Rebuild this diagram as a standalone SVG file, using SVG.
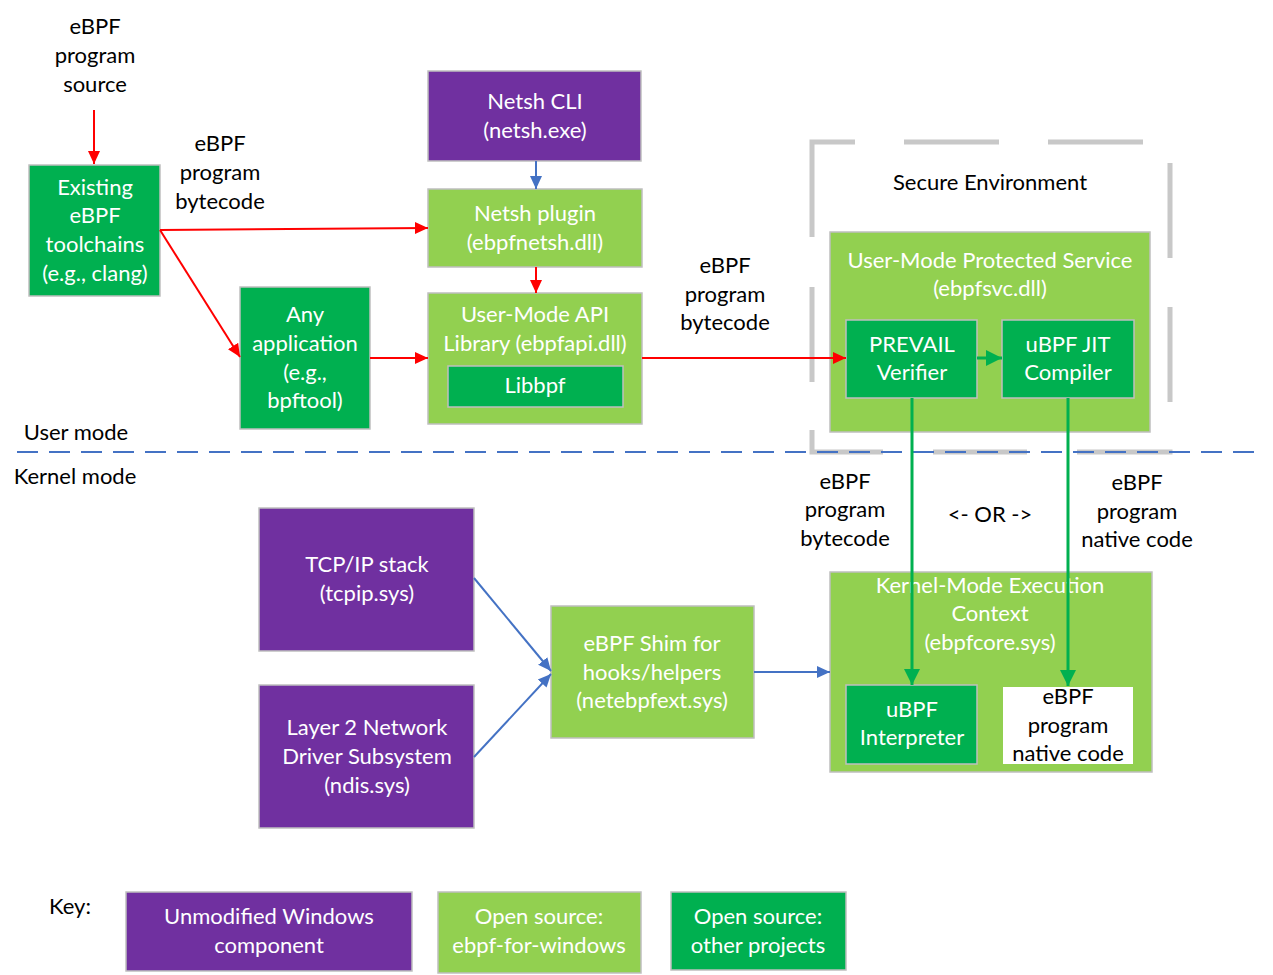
<svg xmlns="http://www.w3.org/2000/svg" width="1273" height="975" viewBox="0 0 1273 975">
<style>
text{font-family:Lato,"Open Sans","Liberation Sans",sans-serif;font-size:22px;text-anchor:middle;dominant-baseline:central;transform:translate(0px,-1.5px)}
.w{fill:#fff}
.k{fill:#000}
.purple{fill:#7030A0;stroke:#BFBFBF;stroke-width:1.5}
.lg{fill:#92D050;stroke:#BFBFBF;stroke-width:1.5}
.dg{fill:#00B050;stroke:#BFBFBF;stroke-width:1.5}
.wb{fill:#fff;stroke:none}
.red{stroke:#FF0000;stroke-width:2;fill:none}
.blue{stroke:#4472C4;stroke-width:2;fill:none}
.green{stroke:#00B050;stroke-width:3;fill:none}
.gray{stroke:#C8C8C8;stroke-width:5;fill:none;stroke-linejoin:miter}
</style>
<defs>
<marker id="ar" markerUnits="userSpaceOnUse" markerWidth="14" markerHeight="14" refX="13" refY="7" orient="auto"><path d="M0,1 L13,7 L0,13 Z" fill="#FF0000"/></marker>
<marker id="ab" markerUnits="userSpaceOnUse" markerWidth="14" markerHeight="14" refX="13" refY="7" orient="auto"><path d="M0,1 L13,7 L0,13 Z" fill="#4472C4"/></marker>
<marker id="ag" markerUnits="userSpaceOnUse" markerWidth="18" markerHeight="16" refX="16" refY="8" orient="auto"><path d="M0,0 L16,8 L0,16 Z" fill="#00B050"/></marker>
</defs>
<rect width="1273" height="975" fill="#fff"/>

<g id="secure-env">
<path class="gray" d="M855,142 H812 V237 M812,287 V382 M812,430 V452 H883 M933,452 H1027 M1077,452 H1172.5 M1170,402 V307 M1170,258 V163 M1143,142 H1048 M999,142 H904"/>
<text x="990" y="183" class="k">Secure Environment</text>
</g>

<g id="mode-divider">
<line x1="17" y1="452" x2="1255" y2="452" stroke="#4472C4" stroke-width="2" stroke-dasharray="21 11"/>
<text x="76" y="433" class="k">User mode</text>
<text x="75" y="477" class="k">Kernel mode</text>
</g>

<g id="labels">
<text x="95" y="27" class="k">eBPF</text><text x="95" y="56" class="k">program</text><text x="95" y="85" class="k">source</text>
<text x="220" y="144" class="k">eBPF</text><text x="220" y="173" class="k">program</text><text x="220" y="202" class="k">bytecode</text>
<text x="725" y="266" class="k">eBPF</text><text x="725" y="295" class="k">program</text><text x="725" y="323" class="k">bytecode</text>
<text x="845" y="482" class="k">eBPF</text><text x="845" y="510" class="k">program</text><text x="845" y="539" class="k">bytecode</text>
<text x="990" y="515" class="k">&lt;- OR -&gt;</text>
<text x="1137" y="483" class="k">eBPF</text><text x="1137" y="512" class="k">program</text><text x="1137" y="540" class="k">native code</text>
</g>

<g id="toolchains">
<rect x="29" y="165" width="131" height="131" class="dg"/>
<text x="95" y="188" class="w">Existing</text><text x="95" y="216" class="w">eBPF</text><text x="95" y="245" class="w">toolchains</text><text x="95" y="274" class="w">(e.g., clang)</text>
</g>

<g id="any-app">
<rect x="240" y="287" width="130" height="142" class="dg"/>
<text x="305" y="315" class="w">Any</text><text x="305" y="344" class="w">application</text><text x="305" y="373" class="w">(e.g.,</text><text x="305" y="401" class="w">bpftool)</text>
</g>

<g id="netsh-cli">
<rect x="428" y="71" width="213" height="90" class="purple"/>
<text x="535" y="102" class="w">Netsh CLI</text><text x="535" y="131" class="w">(netsh.exe)</text>
</g>

<g id="netsh-plugin">
<rect x="428" y="189" width="214" height="78" class="lg"/>
<text x="535" y="214" class="w">Netsh plugin</text><text x="535" y="243" class="w">(ebpfnetsh.dll)</text>
</g>

<g id="api-lib">
<rect x="428" y="293" width="214" height="131" class="lg"/>
<text x="535" y="315" class="w">User-Mode API</text><text x="535" y="344" class="w">Library (ebpfapi.dll)</text>
<rect x="448" y="366" width="175" height="41" class="dg"/>
<text x="535" y="386" class="w">Libbpf</text>
</g>

<g id="protected-service">
<rect x="830" y="232" width="320" height="200" class="lg"/>
<text x="990" y="261" class="w">User-Mode Protected Service</text><text x="990" y="289" class="w">(ebpfsvc.dll)</text>
</g>

<g id="prevail">
<rect x="846" y="320" width="131" height="78" class="dg"/>
<text x="912" y="345" class="w">PREVAIL</text><text x="912" y="373" class="w">Verifier</text>
</g>

<g id="jit">
<rect x="1002" y="320" width="132" height="78" class="dg"/>
<text x="1068" y="345" class="w">uBPF JIT</text><text x="1068" y="373" class="w">Compiler</text>
</g>

<g id="kernel-exec">
<rect x="830" y="572" width="322" height="200" class="lg"/>
<text x="990" y="586" class="w">Kernel-Mode Execution</text><text x="990" y="614" class="w">Context</text><text x="990" y="643" class="w">(ebpfcore.sys)</text>
</g>

<g id="interpreter">
<rect x="846" y="685" width="131" height="79" class="dg"/>
<text x="912" y="710" class="w">uBPF</text><text x="912" y="738" class="w">Interpreter</text>
</g>

<g id="native-code">
<rect x="1003" y="687" width="130" height="77" class="wb"/>
<text x="1068" y="697" class="k">eBPF</text><text x="1068" y="726" class="k">program</text><text x="1068" y="754" class="k">native code</text>
</g>

<g id="tcpip">
<rect x="259" y="508" width="215" height="143" class="purple"/>
<text x="367" y="565" class="w">TCP/IP stack</text><text x="367" y="594" class="w">(tcpip.sys)</text>
</g>

<g id="ndis">
<rect x="259" y="685" width="215" height="143" class="purple"/>
<text x="367" y="728" class="w">Layer 2 Network</text><text x="367" y="757" class="w">Driver Subsystem</text><text x="367" y="786" class="w">(ndis.sys)</text>
</g>

<g id="shim">
<rect x="551" y="606" width="203" height="132" class="lg"/>
<text x="652" y="644" class="w">eBPF Shim for</text><text x="652" y="673" class="w">hooks/helpers</text><text x="652" y="701" class="w">(netebpfext.sys)</text>
</g>

<g id="key">
<text x="70" y="907" class="k">Key:</text>
<rect x="126" y="892" width="286" height="79" class="purple"/>
<text x="269" y="917" class="w">Unmodified Windows</text><text x="269" y="946" class="w">component</text>
<rect x="438" y="892" width="203" height="81" class="lg"/>
<text x="539" y="917" class="w">Open source:</text><text x="539" y="946" class="w">ebpf-for-windows</text>
<rect x="671" y="892" width="175" height="78" class="dg"/>
<text x="758" y="917" class="w">Open source:</text><text x="758" y="946" class="w">other projects</text>
</g>

<g id="connectors">
<line x1="94" y1="110" x2="94" y2="164" class="red" marker-end="url(#ar)"/>
<line x1="160" y1="230" x2="428" y2="228" class="red" marker-end="url(#ar)"/>
<line x1="160" y1="230" x2="240" y2="357" class="red" marker-end="url(#ar)"/>
<line x1="370" y1="358" x2="428" y2="358" class="red" marker-end="url(#ar)"/>
<line x1="536" y1="161" x2="536" y2="189" class="blue" marker-end="url(#ab)"/>
<line x1="536" y1="267" x2="536" y2="293" class="red" marker-end="url(#ar)"/>
<line x1="642" y1="358" x2="846" y2="358" class="red" marker-end="url(#ar)"/>
<line x1="977" y1="358" x2="1002" y2="358" class="green" marker-end="url(#ag)"/>
<line x1="912" y1="398" x2="912" y2="685" class="green" marker-end="url(#ag)"/>
<line x1="1068" y1="398" x2="1068" y2="686" class="green" marker-end="url(#ag)"/>
<line x1="474" y1="578" x2="551" y2="671" class="blue" marker-end="url(#ab)"/>
<line x1="474" y1="757" x2="551" y2="674" class="blue" marker-end="url(#ab)"/>
<line x1="754" y1="672" x2="830" y2="672" class="blue" marker-end="url(#ab)"/>
</g>
</svg>
